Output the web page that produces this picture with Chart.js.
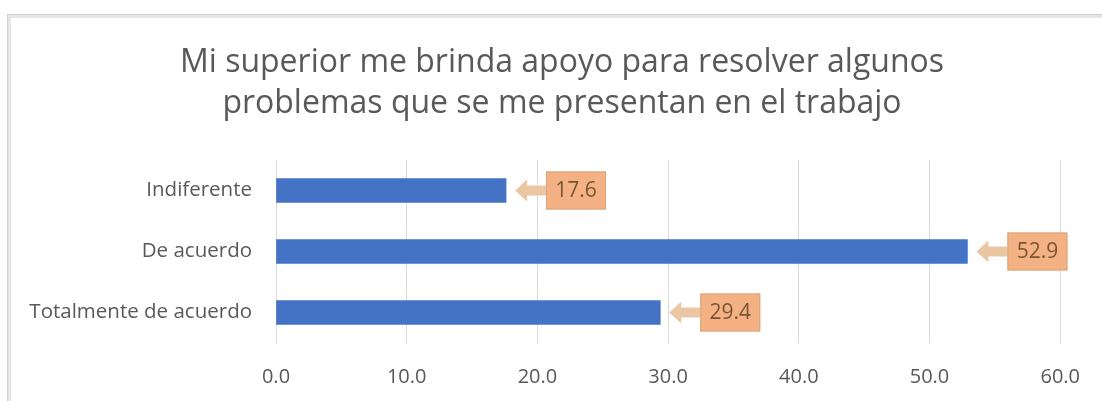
<!DOCTYPE html>
<html>
  <head>
    <title>Apoyo del superior</title>
    <script src="https://cdn.jsdelivr.net/npm/chart.js@4/dist/chart.umd.min.js"></script>
    <style>
      html, body { margin: 0; padding: 0; background: #fff; }
      #container { width: 1102px; height: 401px; }
    </style>
  </head>

  <body>
    <div id="container">
      <canvas id="canvas"></canvas>
    </div>
    <script>
      const categories = ['Indiferente', 'De acuerdo', 'Totalmente de acuerdo'];
      const percentages = [17.6, 52.9, 29.4];
      const xTicks = [0, 10, 20, 30, 40, 50, 60];
      const titleLines = [
        'Mi superior me brinda apoyo para resolver algunos',
        'problemas que se me presentan en el trabajo',
      ];

      const textGray = '#595959';

      // light frame around the whole chart, plus the two-line title
      const framePlugin = {
        id: 'frame',
        beforeDraw(chart) {
          const ctx = chart.ctx;
          ctx.save();
          ctx.fillStyle = '#ffffff';
          ctx.fillRect(0, 0, chart.width, chart.height);
          ctx.strokeStyle = '#e6e6e6';
          ctx.lineWidth = 4;
          ctx.strokeRect(9, 16, chart.width + 20, chart.height + 20);
          ctx.strokeStyle = '#d0d0d0';
          ctx.lineWidth = 1;
          ctx.strokeRect(7.5, 14.5, chart.width + 20, chart.height + 20);

          ctx.fillStyle = textGray;
          ctx.font = '32px "Open Sans", sans-serif';
          ctx.textAlign = 'center';
          ctx.textBaseline = 'alphabetic';
          titleLines.forEach((line, i) => {
            ctx.fillText(line, 562, 72 + i * 41);
          });
          ctx.restore();
        },
      };

      // arrow callouts holding each bar's value
      const calloutPlugin = {
        id: 'callouts',
        afterDatasetsDraw(chart) {
          const ctx = chart.ctx;
          const meta = chart.getDatasetMeta(0);
          ctx.save();
          meta.data.forEach((bar, i) => {
            const tip = bar.x + 9;
            const cy = bar.y;
            const headLen = 12, headHalf = 11, shaftHalf = 5, shaftLen = 19;
            const boxX = tip + headLen + shaftLen;
            const boxW = 60, boxH = 38;

            ctx.fillStyle = '#ebc6a2';
            ctx.beginPath();
            ctx.moveTo(tip, cy);
            ctx.lineTo(tip + headLen, cy - headHalf);
            ctx.lineTo(tip + headLen, cy - shaftHalf);
            ctx.lineTo(boxX, cy - shaftHalf);
            ctx.lineTo(boxX, cy + shaftHalf);
            ctx.lineTo(tip + headLen, cy + shaftHalf);
            ctx.lineTo(tip + headLen, cy + headHalf);
            ctx.closePath();
            ctx.fill();

            ctx.fillStyle = '#f4b183';
            ctx.fillRect(boxX, cy - boxH / 2, boxW, boxH);
            ctx.strokeStyle = '#d9a57c';
            ctx.lineWidth = 1;
            ctx.strokeRect(boxX + 0.5, cy - boxH / 2 + 0.5, boxW - 1, boxH - 1);

            ctx.fillStyle = '#7a5634';
            ctx.font = '21px "Open Sans", sans-serif';
            ctx.textAlign = 'center';
            ctx.textBaseline = 'middle';
            ctx.fillText(percentages[i].toFixed(1), boxX + boxW / 2, cy + 1);
          });
          ctx.restore();
        },
      };

      window.onload = () => {
        const ctx = document.getElementById('canvas').getContext('2d');
        new Chart(ctx, {
          type: 'bar',
          data: {
            labels: categories,
            datasets: [
              {
                data: percentages,
                backgroundColor: '#4472c4',
                borderWidth: 0,
                barThickness: 24,
              },
            ],
          },
          plugins: [framePlugin, calloutPlugin],
          options: {
            indexAxis: 'y',
            responsive: true,
            maintainAspectRatio: false,
            animation: false,
            layout: {
              padding: { left: 8, right: 40, top: 160, bottom: 0 },
            },
            plugins: {
              legend: { display: false },
              tooltip: { enabled: false },
              title: { display: false },
            },
            scales: {
              x: {
                min: 0,
                max: 60,
                afterBuildTicks(scale) {
                  scale.ticks = xTicks.map((v) => ({ value: v }));
                },
                afterFit(scale) {
                  scale.height = 58;
                },
                ticks: {
                  color: textGray,
                  font: { family: '"Open Sans", sans-serif', size: 20 },
                  padding: 22,
                  callback: (v) => Number(v).toFixed(1),
                },
                grid: { color: '#d9d9d9', lineWidth: 1, drawTicks: false },
                border: { display: false },
              },
              y: {
                afterFit(scale) {
                  scale.width = 268;
                },
                ticks: {
                  color: textGray,
                  font: { family: '"Open Sans", sans-serif', size: 20.5 },
                  padding: 24,
                },
                grid: { display: false, drawTicks: false },
                border: { display: false },
              },
            },
          },
        });
      };
    </script>
  </body>
</html>
